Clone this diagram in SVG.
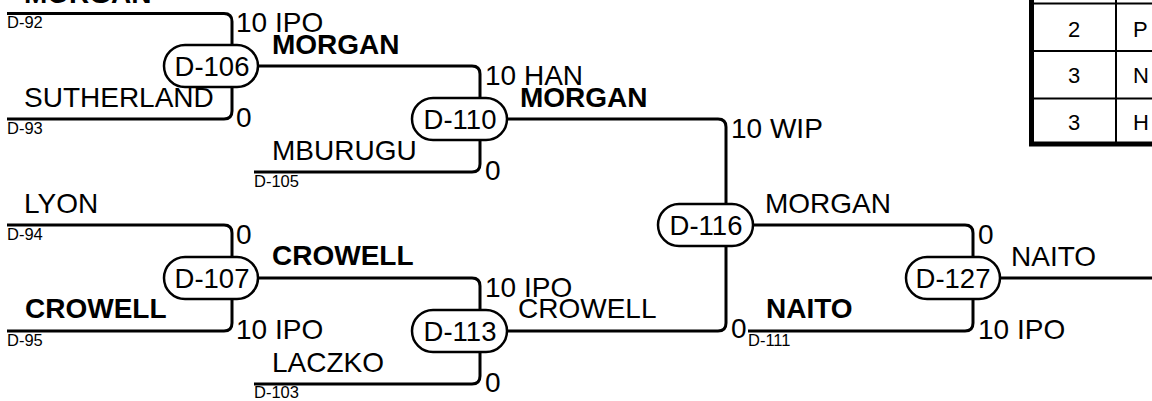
<svg xmlns="http://www.w3.org/2000/svg" width="1152" height="401" viewBox="0 0 1152 401">
<style>
text{font-family:"Liberation Sans",Arial,sans-serif;fill:#000}
.n{font-size:28px}
.b{font-size:28px;font-weight:bold}
.s{font-size:28px}
.d{font-size:16.5px}
.bx{font-size:27.5px;text-anchor:middle}
.t{font-size:22px}
.c{fill:none;stroke:#000;stroke-width:3}
.box{fill:#fff;stroke:#000;stroke-width:2.5}
.tl{stroke:#000;stroke-width:2;fill:none}
</style>
<rect width="1152" height="401" fill="#fff"/>
<g id="connectors">
<path class="c" d="M7,13.5 H224 Q232,13.5 232,21.5 V111 Q232,119 224,119 H7"/>
<path class="c" d="M258,66 H472 Q480,66 480,74 V164 Q480,172 472,172 H254"/>
<path class="c" d="M507,119 H718 Q726,119 726,127 V323 Q726,331 718,331 H507"/>
<path class="c" d="M7,225 H224 Q232,225 232,233 V323 Q232,331 224,331 H7"/>
<path class="c" d="M258,278 H472 Q480,278 480,286 V376 Q480,384 472,384 H254"/>
<path class="c" d="M753,225 H965 Q973,225 973,233 V323 Q973,331 965,331 H748"/>
<path class="c" d="M1000,278 H1152"/>
</g>
<g id="entrants">
<text class="b" x="24" y="3">MORGAN</text>
<text class="d" x="7" y="28">D-92</text>
<text class="n" x="24" y="107">SUTHERLAND</text>
<text class="d" x="7" y="134">D-93</text>
<text class="n" x="272" y="160">MBURUGU</text>
<text class="d" x="254" y="187">D-105</text>
<text class="n" x="24" y="213">LYON</text>
<text class="d" x="7" y="240">D-94</text>
<text class="b" x="25" y="318">CROWELL</text>
<text class="d" x="7" y="346">D-95</text>
<text class="n" x="272" y="372">LACZKO</text>
<text class="d" x="254" y="398">D-103</text>
<text class="b" x="766" y="318">NAITO</text>
<text class="d" x="748" y="346">D-111</text>
</g>
<g id="D-106">
<rect class="box" x="164" y="45" width="94" height="42" rx="21"/>
<text class="bx" x="212" y="76">D-106</text>
<text class="s" x="236" y="32">10 IPO</text>
<text class="s" x="236" y="127">0</text>
<text class="b" x="272" y="54">MORGAN</text>
</g>
<g id="D-110">
<rect class="box" x="412" y="98" width="95" height="42" rx="21"/>
<text class="bx" x="460" y="129">D-110</text>
<text class="s" x="485" y="85">10 HAN</text>
<text class="s" x="485" y="180">0</text>
<text class="b" x="520" y="107">MORGAN</text>
</g>
<g id="D-107">
<rect class="box" x="164" y="257" width="94" height="42" rx="21"/>
<text class="bx" x="212" y="288">D-107</text>
<text class="s" x="236" y="244">0</text>
<text class="s" x="236" y="339">10 IPO</text>
<text class="b" x="272" y="265">CROWELL</text>
</g>
<g id="D-113">
<rect class="box" x="412" y="310" width="95" height="42" rx="21"/>
<text class="bx" x="460" y="341">D-113</text>
<text class="s" x="485" y="297">10 IPO</text>
<text class="s" x="485" y="392">0</text>
<text class="n" x="518" y="318">CROWELL</text>
</g>
<g id="D-116">
<rect class="box" x="658" y="204" width="95" height="42" rx="21"/>
<text class="bx" x="706" y="235">D-116</text>
<text class="s" x="731" y="138">10 WIP</text>
<text class="s" x="731" y="338">0</text>
<text class="n" x="765" y="213">MORGAN</text>
</g>
<g id="D-127">
<rect class="box" x="906" y="257" width="94" height="42" rx="21"/>
<text class="bx" x="953" y="288">D-127</text>
<text class="s" x="978" y="244">0</text>
<text class="s" x="978" y="339">10 IPO</text>
<text class="n" x="1011" y="266">NAITO</text>
</g>
<g id="standings">
<line class="tl" x1="1031" y1="3.5" x2="1152" y2="3.5"/>
<line class="tl" x1="1031" y1="51" x2="1152" y2="51"/>
<line class="tl" x1="1031" y1="98.5" x2="1152" y2="98.5"/>
<line class="tl" x1="1116" y1="0" x2="1116" y2="144"/>
<line x1="1031.5" y1="0" x2="1031.5" y2="146" stroke="#000" stroke-width="5"/>
<line x1="1029" y1="144" x2="1152" y2="144" stroke="#000" stroke-width="5"/>
<text class="t" x="1074" y="37" text-anchor="middle">2</text>
<text class="t" x="1133" y="37">P</text>
<text class="t" x="1074" y="83" text-anchor="middle">3</text>
<text class="t" x="1133" y="83">N</text>
<text class="t" x="1074" y="130" text-anchor="middle">3</text>
<text class="t" x="1133" y="130">H</text>
</g>
</svg>
